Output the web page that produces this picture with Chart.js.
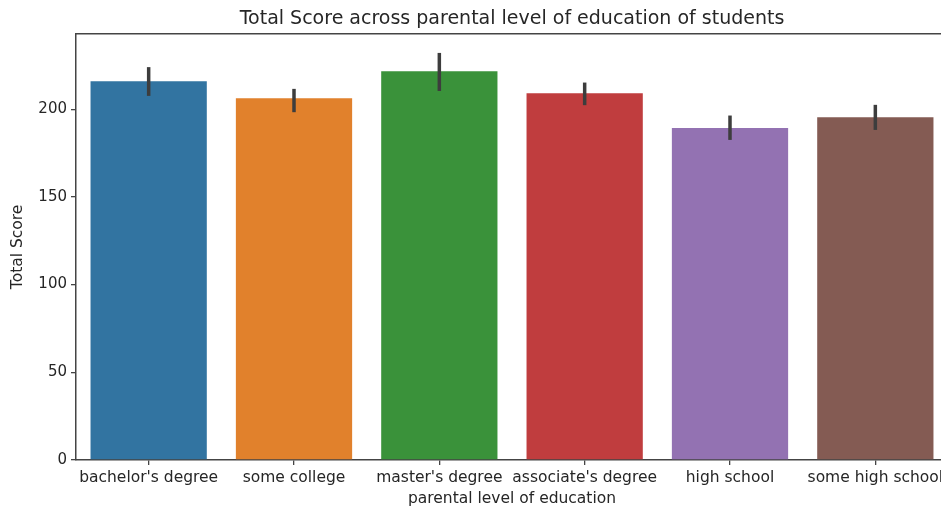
<!DOCTYPE html>
<html>
<head>
<meta charset="utf-8">
<script src="https://cdn.jsdelivr.net/npm/chart.js@4/dist/chart.umd.min.js"></script>
<style>
  html, body { margin: 0; padding: 0; background: #fff; overflow: hidden; }
  #wrap { width: 960px; height: 508px; }
</style>
</head>
<body>
<div id="wrap"><canvas id="c" width="960" height="508"></canvas></div>
<script>
// Mean total score by parental level of education, with 95% CI bounds
const categories = ["bachelor's degree", "some college", "master's degree", "associate's degree", "high school", "some high school"];
const meanScore = [216.0, 206.3, 221.6, 209.1, 189.3, 195.4];
const ciLow = [207.6, 198.3, 210.4, 202.3, 182.5, 188.2];
const ciHigh = [224.0, 211.6, 232.1, 215.2, 196.4, 202.5];
const barColors = ['#3274a1', '#e1812c', '#3a923a', '#c03d3e', '#9372b2', '#845b53'];
const yTicks = [0, 50, 100, 150, 200];

const FONT = 'DejaVu Sans';
const INK = '#262626';

// Error bars and the top spine, positioned through the chart scales
const errorBars = {
  id: 'errorBars',
  afterDatasetsDraw(chart) {
    const { ctx, scales: { x, y }, chartArea } = chart;
    ctx.save();
    ctx.strokeStyle = '#3d3d3d';
    ctx.lineWidth = 3.5;
    ctx.lineCap = 'butt';
    categories.forEach((_, i) => {
      const px = x.getPixelForValue(i);
      ctx.beginPath();
      ctx.moveTo(px, y.getPixelForValue(ciLow[i]));
      ctx.lineTo(px, y.getPixelForValue(ciHigh[i]));
      ctx.stroke();
    });
    ctx.strokeStyle = '#444';
    ctx.lineWidth = 1.5;
    ctx.beginPath();
    ctx.moveTo(chartArea.left, chartArea.top);
    ctx.lineTo(chartArea.right, chartArea.top);
    ctx.stroke();
    ctx.restore();
  }
};

new Chart(document.getElementById('c'), {
  type: 'bar',
  data: {
    labels: categories,
    datasets: [{
      data: meanScore,
      backgroundColor: barColors,
      borderWidth: 0,
      categoryPercentage: 1.0,
      barPercentage: 0.8
    }]
  },
  options: {
    responsive: false,
    animation: false,
    layout: { padding: { left: 0, right: 12, top: 0, bottom: 0 } },
    plugins: {
      legend: { display: false },
      tooltip: { enabled: false },
      title: {
        display: true,
        fullSize: false,
        text: 'Total Score across parental level of education of students',
        color: INK,
        font: { family: FONT, size: 19, weight: 'normal' },
        padding: { top: 8, bottom: 3 }
      }
    },
    scales: {
      x: {
        grid: { display: true, offset: false, drawOnChartArea: false, drawTicks: true, tickLength: 5, color: '#444', lineWidth: 1.3 },
        border: { display: true, color: '#444', width: 1.5 },
        ticks: { color: INK, font: { family: FONT, size: 15.5 }, padding: 4, maxRotation: 0, autoSkip: false },
        title: {
          display: true,
          text: 'parental level of education',
          color: INK,
          font: { family: FONT, size: 15.5 },
          padding: { top: 0, bottom: 0 }
        },
        afterFit(scale) { scale.height = 48; }
      },
      y: {
        min: 0,
        max: 243,
        afterBuildTicks(scale) { scale.ticks = yTicks.map(v => ({ value: v })); },
        grid: { display: true, drawOnChartArea: false, drawTicks: true, tickLength: 5, color: '#444', lineWidth: 1.3 },
        border: { display: true, color: '#444', width: 1.5 },
        ticks: { color: INK, font: { family: FONT, size: 15 }, padding: 4 },
        title: {
          display: true,
          text: 'Total Score',
          color: INK,
          font: { family: FONT, size: 15.5 },
          padding: { top: 9, bottom: 4 }
        },
        afterFit(scale) { scale.width = 76; }
      }
    }
  },
  plugins: [errorBars]
});
</script>
</body>
</html>
